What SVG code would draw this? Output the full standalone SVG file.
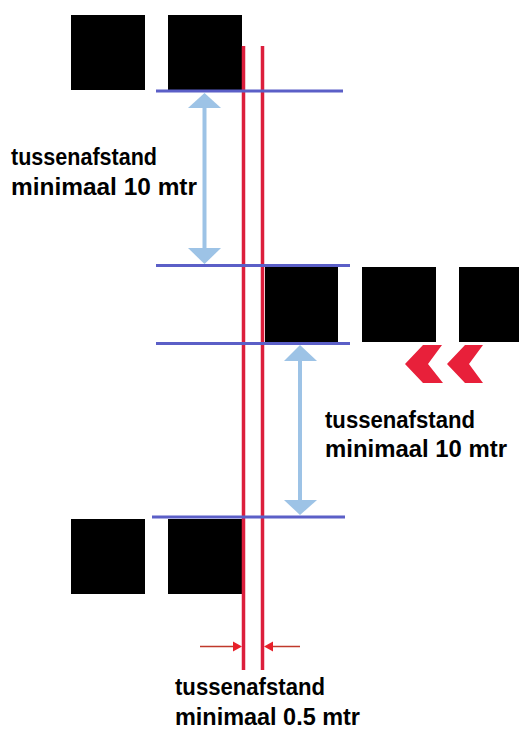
<svg xmlns="http://www.w3.org/2000/svg" width="519" height="729" viewBox="0 0 519 729">
<style>
.car{fill:#000}
.red{stroke:#DC1E3C;stroke-width:3.5;fill:none}
.blue{stroke:#5B5FC7;stroke-width:3;fill:none}
.shaft{stroke:#9DC3E6;stroke-width:4;fill:none}
.head{fill:#9DC3E6}
.dim{stroke:#C0392B;stroke-width:1.5;fill:none}
.dimhead{fill:#E8202A}
.chev{fill:#E8203A}
text{font-family:"Liberation Sans",Arial,sans-serif;font-weight:bold;font-size:23px;fill:#000}
</style>
<rect width="519" height="729" fill="#fff"/>
<g id="cars">
<rect id="car1" class="car" x="71" y="15" width="74" height="75"/>
<rect id="car2" class="car" x="168" y="15" width="74" height="75"/>
<rect id="car3" class="car" x="265" y="267" width="73" height="75"/>
<rect id="car4" class="car" x="362" y="267" width="74" height="75"/>
<rect id="car5" class="car" x="459" y="267" width="60" height="75"/>
<rect id="car6" class="car" x="71" y="519" width="74" height="75"/>
<rect id="car7" class="car" x="168" y="519" width="74" height="75"/>
</g>
<g id="connectors">
<line class="red" x1="243.5" y1="46" x2="243.5" y2="670"/>
<line class="red" x1="262.5" y1="46" x2="262.5" y2="670"/>
<line class="blue" x1="156" y1="91" x2="343" y2="91"/>
<line class="blue" x1="156" y1="265.5" x2="350" y2="265.5"/>
<line class="blue" x1="156" y1="343.5" x2="350" y2="343.5"/>
<line class="blue" x1="152" y1="517" x2="345" y2="517"/>
<line class="shaft" x1="204.5" y1="106" x2="204.5" y2="250"/>
<polygon class="head" points="204.5,93 188,108 221,108"/>
<polygon class="head" points="204.5,264 188,248 221,248"/>
<line class="shaft" x1="300" y1="360" x2="300" y2="502"/>
<polygon class="head" points="300,345 284,361 317,361"/>
<polygon class="head" points="300,515 284,500 317,500"/>
<line class="dim" x1="200" y1="646.5" x2="236" y2="646.5"/>
<polygon class="dimhead" points="242,646.5 233,641.5 233,651.5"/>
<line class="dim" x1="270" y1="646.5" x2="300" y2="646.5"/>
<polygon class="dimhead" points="264,646.5 273,641.5 273,651.5"/>
</g>
<g id="direction">
<polygon class="chev" points="423,345 442,345 428,364 443,383 423,383 405,364"/>
<polygon class="chev" points="465,345 483,345 469,364 483,383 465,383 447,364"/>
</g>
<g id="labels">
<text x="11" y="165" textLength="146" lengthAdjust="spacingAndGlyphs">tussenafstand</text>
<text x="11" y="195" textLength="186" lengthAdjust="spacingAndGlyphs">minimaal 10 mtr</text>
<text x="325" y="428" textLength="150" lengthAdjust="spacingAndGlyphs">tussenafstand</text>
<text x="325" y="457" textLength="182" lengthAdjust="spacingAndGlyphs">minimaal 10 mtr</text>
<text x="175" y="695" textLength="150" lengthAdjust="spacingAndGlyphs">tussenafstand</text>
<text x="175" y="725" textLength="185" lengthAdjust="spacingAndGlyphs">minimaal 0.5 mtr</text>
</g>
</svg>
